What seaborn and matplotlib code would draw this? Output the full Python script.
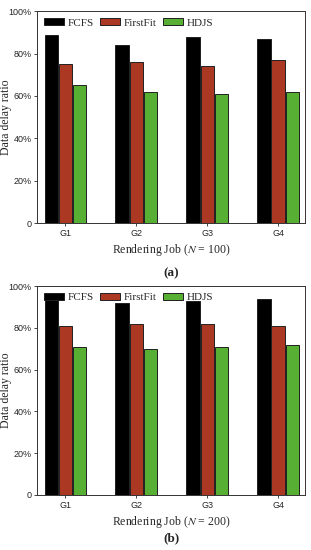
import matplotlib
matplotlib.use("Agg")
import matplotlib.pyplot as plt
import seaborn as sns
import pandas as pd

# data
groups = ["G1", "G2", "G3", "G4"]
methods = ["FCFS", "FirstFit", "HDJS"]
fcfs_100 = [89, 84, 88, 87]
firstfit_100 = [75, 76, 74, 77]
hdjs_100 = [65, 62, 61, 62]
fcfs_200 = [94, 92, 93, 94]
firstfit_200 = [81, 82, 82, 81]
hdjs_200 = [71, 70, 71, 72]
colors = ["#000000", "#c0280c", "#4ec41e"]

sns.set_theme(style="white")
plt.rcParams["font.family"] = ["Liberation Serif", "DejaVu Serif"]
plt.rcParams["mathtext.fontset"] = "stix"


def long_df(a, b, c):
    rows = []
    for m, vals in zip(methods, [a, b, c]):
        for g, v in zip(groups, vals):
            rows.append({"group": g, "method": m, "value": v})
    return pd.DataFrame(rows)


fig = plt.figure(figsize=(3.11, 5.5), dpi=100)
ax1 = fig.add_axes([0.119, 0.5945, 0.862, 0.385])
ax2 = fig.add_axes([0.119, 0.1, 0.862, 0.38])

panels = [(ax1, long_df(fcfs_100, firstfit_100, hdjs_100), "100", "(a)", -0.236),
          (ax2, long_df(fcfs_200, firstfit_200, hdjs_200), "200", "(b)", -0.206)]

for ax, df, n, tag, ty in panels:
    sns.barplot(data=df, x="group", y="value", hue="method", palette=colors,
                width=0.6, gap=0.06, edgecolor="#202020", linewidth=0.7, ax=ax)
    ax.set_ylim(0, 100)
    ax.set_xlim(-0.4, 3.38)
    ax.set_yticks([0, 20, 40, 60, 80, 100])
    ax.set_yticklabels(["0", "20%", "40%", "60%", "80%", "100%"],
                       fontfamily="Liberation Sans", fontsize=6.5)
    for lab in ax.get_xticklabels():
        lab.set_fontfamily("Liberation Sans")
        lab.set_fontsize(6.5)
    ax.tick_params(axis="both", direction="out", length=2.5, width=0.6, pad=1.5,
                   left=True, bottom=True)
    for s in ax.spines.values():
        s.set_linewidth(0.7)
        s.set_color("#333333")
    ax.set_ylabel("Data delay ratio", fontsize=8.5)
    ax.yaxis.set_label_coords(-0.095, 0.5)
    ax.set_xlabel("Rendering Job ($N$ = " + n + ")", fontsize=8.5, labelpad=3)
    ax.legend(loc="upper left", ncol=3, frameon=False, fontsize=8,
              handlelength=1.8, handleheight=0.65, columnspacing=0.55,
              handletextpad=0.35, borderaxespad=0.2, bbox_to_anchor=(0.0, 1.0))
    ax.text(0.5, ty, tag, transform=ax.transAxes,
            ha="center", va="center", fontsize=9.5, fontweight="bold")

fig.savefig("out.png", dpi=100)
